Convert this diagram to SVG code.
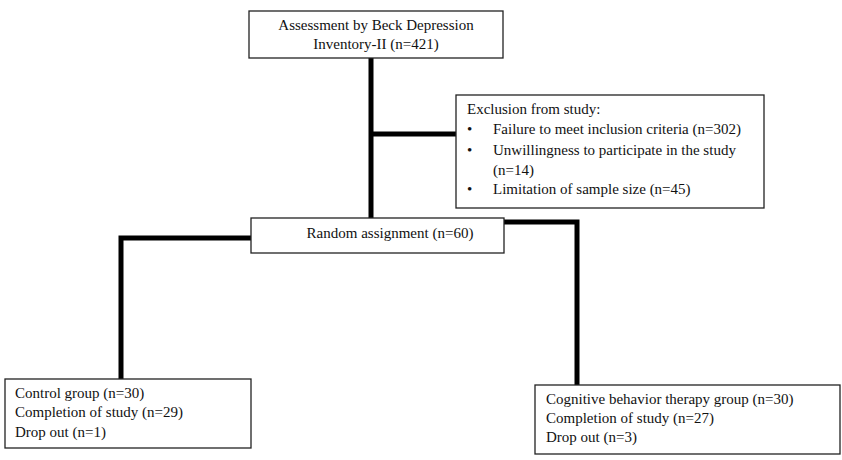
<svg xmlns="http://www.w3.org/2000/svg" width="842" height="460" viewBox="0 0 842 460">
<style>
.box{fill:#fff;stroke:#222;stroke-width:1.3}
.t{font-family:"Liberation Serif","Times New Roman",serif;font-size:15px;fill:#111}
.c{text-anchor:middle}
.conn{fill:none;stroke:#000;stroke-width:5;stroke-linejoin:miter}
</style>
<rect width="842" height="460" fill="#fff"/>
<g id="connectors">
<path class="conn" d="M371,58 V218"/>
<path class="conn" d="M371,134 H456"/>
<path class="conn" d="M251,238 H121 V379"/>
<path class="conn" d="M504,222 H577 V385"/>
</g>
<g id="assessment">
<rect class="box" x="249" y="11" width="254" height="47"/>
<text class="t c" x="376" y="30">Assessment by Beck Depression</text>
<text class="t c" x="376" y="49">Inventory-II (n=421)</text>
</g>
<g id="exclusion">
<rect class="box" x="456" y="95" width="308" height="113"/>
<text class="t" x="467" y="114">Exclusion from study:</text>
<text class="t" x="467" y="134">•</text>
<text class="t" x="493" y="134">Failure to meet inclusion criteria (n=302)</text>
<text class="t" x="467" y="155">•</text>
<text class="t" x="493" y="155">Unwillingness to participate in the study</text>
<text class="t" x="493" y="175">(n=14)</text>
<text class="t" x="467" y="194">•</text>
<text class="t" x="493" y="194">Limitation of sample size (n=45)</text>
</g>
<g id="random">
<rect class="box" x="251" y="218" width="253" height="35"/>
<text class="t c" x="390" y="238">Random assignment (n=60)</text>
</g>
<g id="control">
<rect class="box" x="5" y="379" width="246" height="69"/>
<text class="t" x="15" y="398">Control group (n=30)</text>
<text class="t" x="15" y="417">Completion of study (n=29)</text>
<text class="t" x="15" y="437">Drop out (n=1)</text>
</g>
<g id="cbt">
<rect class="box" x="535" y="385" width="305" height="69"/>
<text class="t" x="546" y="404">Cognitive behavior therapy group (n=30)</text>
<text class="t" x="546" y="423">Completion of study (n=27)</text>
<text class="t" x="546" y="442">Drop out (n=3)</text>
</g>
</svg>
